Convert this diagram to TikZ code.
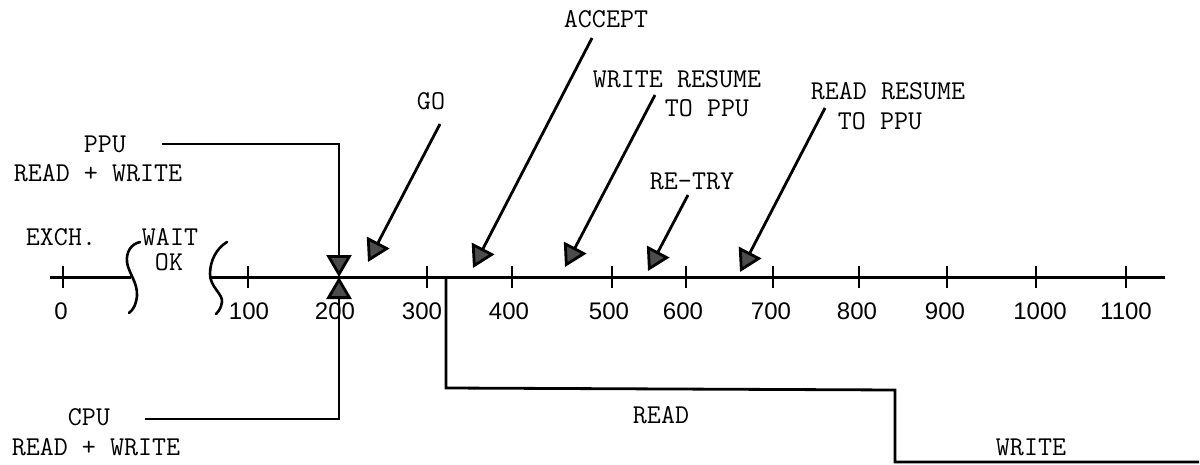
\documentclass[tikz,border=0pt]{standalone}
\usepackage{fontspec}
\newfontfamily\numfont{Liberation Sans}
\usetikzlibrary{arrows.meta}
\begin{document}
\begin{tikzpicture}[x=0.5pt,y=-0.5pt,
  lbl/.style={font=\ttfamily\addfontfeatures{FakeBold=1}\fontsize{13.6pt}{15pt}\selectfont, anchor=base, inner sep=0pt},
  num/.style={font=\numfont\fontsize{12pt}{14pt}\selectfont, anchor=base, inner sep=0pt},
  ln/.style={line width=1.4pt, line join=miter},
  axisln/.style={line width=1.5pt},
  arr/.style={ln, -{Triangle[length=11pt,width=12.5pt,fill=black!70]}},
  tickmk/.style={line width=1.4pt},
  brk/.style={line width=1.3pt, line cap=round}]
\useasboundingbox (0,0) rectangle (1200,465);

% ---- text labels ----
\node[lbl] (ppu)   at (105,153) {PPU};
\node[lbl] (ppurw) at (98,182)  {READ + WRITE};
\node[lbl] (exch)  at (61,245)  {EXCH.};
\node[lbl] (wait)  at (170,245) {WAIT};
\node[lbl] (ok)    at (169,270) {OK};
\node[lbl] (go)    at (431,110) {GO};
\node[lbl] (acc)   at (606,28)  {ACCEPT};
\node[lbl] (wr1)   at (677,88)  {WRITE RESUME};
\node[lbl] (wr2)   at (707,117) {TO PPU};
\node[lbl] (retry) at (692,190) {RE-TRY};
\node[lbl] (rr1)   at (888,100) {READ RESUME};
\node[lbl] (rr2)   at (880,130) {TO PPU};
\node[lbl] (cpu)   at (89,425)  {CPU};
\node[lbl] (cpurw) at (96,455)  {READ + WRITE};
\node[lbl] (rd)    at (661,423) {READ};
\node[lbl] (wrt)   at (1031,455) {WRITE};

% ---- time axis ----
\draw[axisln] (50,277) -- (131,277);
\draw[axisln] (211,277) -- (1165,277);
% break marks
\draw[brk] (140,242) .. controls (131,244) and (126,252) .. (127,262)
           .. controls (128,272) and (138,283) .. (137,296)
           .. controls (136,305) and (133,310) .. (129,313);
\draw[brk] (227,242) .. controls (217,248) and (210,260) .. (210,274)
           .. controls (210,287) and (223,294) .. (222,302)
           .. controls (221,308) and (219,311) .. (216,314);

% ticks and numbers
\foreach \tx/\lx/\t in {63/61/0, 248/249/100, 427/422/300, 512/509/400,
  612/609/500, 686/683/600, 773/771/700, 859/857/800, 947/945/900,
  1036/1040/1000, 1126/1126/1100}{
  \draw[tickmk] (\tx,266) -- (\tx,288);
  \node[num] at (\lx,319) {\t};
}
\node[num] (n200) at (335,319) {200};

% ---- PPU / CPU requests meeting at 200 ----
\coordinate (ppuS) at (162,144);
\coordinate (ppuC) at (339,144);
\coordinate (t200) at (339,277);
\coordinate (cpuS) at (145,419);
\coordinate (cpuC) at (339,419);
\draw[arr] (ppuS) -- (ppuC) -- (t200);
\draw[arr] (cpuS) -- (cpuC) -- (t200);

% ---- event arrows ----
\coordinate (goS) at (440,124);   \coordinate (goT) at (368,262);
\coordinate (accS) at (592,38);   \coordinate (accT) at (473,268);
\coordinate (wrS) at (655,95);    \coordinate (wrT) at (565,267);
\coordinate (rtS) at (688,195);   \coordinate (rtT) at (648,271);
\coordinate (rrS) at (825,108);   \coordinate (rrT) at (740,272);
\draw[arr] (goS) -- (goT);
\draw[arr] (accS) -- (accT);
\draw[arr] (wrS) -- (wrT);
\draw[arr] (rtS) -- (rtT);
\draw[arr] (rrS) -- (rrT);

% ---- READ / WRITE step ----
\coordinate (s0) at (446,277);
\coordinate (s1) at (446,388);
\coordinate (s2) at (895,390);
\coordinate (s3) at (895,462);
\coordinate (s4) at (1199,462);
\draw[ln] (s0) -- (s1) -- (s2) -- (s3) -- (s4);
\end{tikzpicture}
\end{document}
